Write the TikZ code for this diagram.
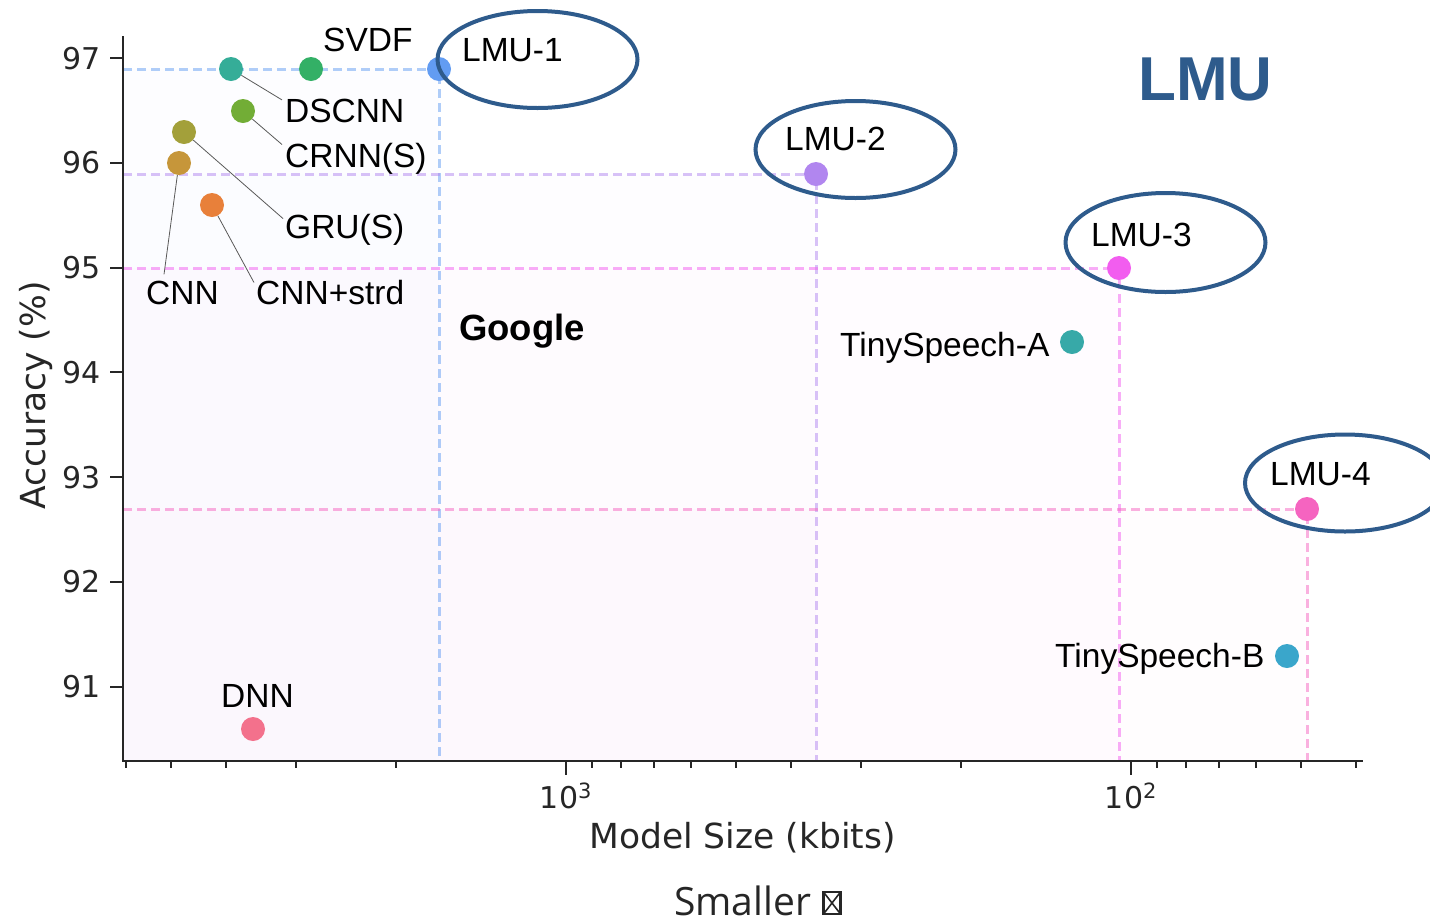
\documentclass[tikz,border=0pt]{standalone}
\usepackage{fontspec}
\setmainfont{Liberation Sans}
\newfontfamily\axisfont{DejaVu Sans}
\newfontfamily\notefont{Open Sans}
\usetikzlibrary{calc}

% palette of the scatter markers
\definecolor{cDNN}{HTML}{F3718C}
\definecolor{cCNNs}{HTML}{E8803A}
\definecolor{cCNN}{HTML}{C6963A}
\definecolor{cGRU}{HTML}{A3A03A}
\definecolor{cCRNN}{HTML}{72AD36}
\definecolor{cSVDF}{HTML}{33B066}
\definecolor{cDSCNN}{HTML}{35AD98}
\definecolor{cTSA}{HTML}{37A9A8}
\definecolor{cTSB}{HTML}{3AA6CB}
\definecolor{cLMUa}{HTML}{629CF2}
\definecolor{cLMUb}{HTML}{B186EF}
\definecolor{cLMUc}{HTML}{F25DEF}
\definecolor{cLMUd}{HTML}{F564C0}
\definecolor{lmuedge}{HTML}{2E5B8C}
\definecolor{axisdark}{HTML}{262626}

\newcommand\setfs[1]{\fontsize{#1}{#1}\selectfont}

\begin{document}
\begin{tikzpicture}[x=1pt, y=-1pt,
  pt/.style={circle, fill=#1, minimum size=24pt, inner sep=0pt},
  guide/.style={draw=#1, draw opacity=0.5, line width=3pt, dash pattern=on 9pt off 5pt},
  shadebox/.style={fill=#1, fill opacity=0.016},
  lbl/.style={font=\setfs{33.5}, inner sep=0pt, anchor=base west},
  leader/.style={draw=black!65, line width=0.8pt},
  halo/.style={draw=lmuedge, line width=4pt},
  spine/.style={draw=axisdark, line width=2.5pt},
  tickmark/.style={draw=axisdark, line width=2pt},
  ytick/.style={font=\axisfont\setfs{30}, text=axisdark, inner sep=0pt, anchor=east},
  xtick/.style={font=\axisfont\setfs{30}, text=axisdark, inner sep=0pt, anchor=base},
  axlabel/.style={font=\axisfont\setfs{34.5}, text=axisdark, inner sep=0pt, anchor=base},
]
\useasboundingbox (0,0) rectangle (1430,922);

% shaded dominance regions of the LMU models
\fill[shadebox=cLMUa] (123,69) rectangle (439,761);
\fill[shadebox=cLMUb] (123,174) rectangle (816,761);
\fill[shadebox=cLMUc] (123,268) rectangle (1119,761);
\fill[shadebox=cLMUd] (123,509) rectangle (1307,761);

% marker positions
\coordinate (l1) at (439,69);
\coordinate (l2) at (816,174);
\coordinate (l3) at (1119,268);
\coordinate (l4) at (1307,509);
\coordinate (yl1) at (123,69);
\coordinate (yl2) at (123,174);
\coordinate (yl3) at (123,268);
\coordinate (yl4) at (123,509);
\coordinate (xl1) at (439,761);
\coordinate (xl2) at (816,761);
\coordinate (xl3) at (1119,761);
\coordinate (xl4) at (1307,761);

% guide lines
\draw[guide=cLMUa] (yl1) -- (l1) -- (xl1);
\draw[guide=cLMUb] (yl2) -- (l2) -- (xl2);
\draw[guide=cLMUc] (yl3) -- (l3) -- (xl3);
\draw[guide=cLMUd] (yl4) -- (l4) -- (xl4);

% axes
\draw[spine] (123,36) -- (123,761) -- (1363,761);
\foreach \v [count=\i from 0] in {97,96,95,94,93,92,91}{
  \pgfmathsetmacro\yy{58.3+104.7*\i}
  \draw[tickmark] (110,\yy) -- (123,\yy);
  \node[ytick] (ytick-\v) at (101,\yy) {\v};
}
\foreach \s in {6000,5000,4000,3000,2000,900,800,700,600,500,400,300,200,90,80,70,60,50,40}{
  \pgfmathsetmacro\xx{566+565*(3-log10(\s))}
  \draw[tickmark] (\xx,761) -- (\xx,768);
}
\draw[tickmark] (566,761) -- (566,775);
\draw[tickmark] (1131,761) -- (1131,775);
\node[xtick] (xt3) at (566,808) {10\textsuperscript{3}};
\node[xtick] (xt2) at (1131,808) {10\textsuperscript{2}};

\node[axlabel] (xlab) at (742.5,848) {Model Size (kbits)};
\node[axlabel, rotate=90] (ylab) at (45,395.5) {Accuracy (\%)};

% markers
\node[pt=cDSCNN] (p-dscnn) at (231,69) {};
\node[pt=cSVDF] (p-svdf) at (311,69) {};
\node[pt=cLMUa] (p-l1) at (l1) {};
\node[pt=cCRNN] (p-crnn) at (243,111) {};
\node[pt=cGRU] (p-gru) at (184,132) {};
\node[pt=cCNN] (p-cnn) at (179,163) {};
\node[pt=cCNNs] (p-cnns) at (212,205) {};
\node[pt=cDNN] (p-dnn) at (253,729) {};
\node[pt=cLMUb] (p-l2) at (l2) {};
\node[pt=cLMUc] (p-l3) at (l3) {};
\node[pt=cTSA] (p-tsa) at (1072,342) {};
\node[pt=cLMUd] (p-l4) at (l4) {};
\node[pt=cTSB] (p-tsb) at (1287,656) {};

% model names
\node[lbl] (t-svdf) at (323,51) {SVDF};
\node[lbl] (t-dscnn) at (285,122) {DSCNN};
\node[lbl] (t-crnn) at (285,167) {CRNN(S)};
\node[lbl] (t-gru) at (285,238) {GRU(S)};
\node[lbl] (t-cnn) at (146,304) {CNN};
\node[lbl] (t-cnns) at (256,304) {CNN+strd};
\node[lbl] (t-dnn) at (221,707) {DNN};
\node[lbl] (t-l1) at (462,61) {LMU-1};
\node[lbl] (t-l2) at (785,150) {LMU-2};
\node[lbl] (t-l3) at (1091,246) {LMU-3};
\node[lbl] (t-l4) at (1270,485) {LMU-4};
\node[lbl] (t-tsa) at (840,356) {TinySpeech-A};
\node[lbl] (t-tsb) at (1055,667) {TinySpeech-B};
\node[lbl, font=\bfseries\setfs{36.5}] (t-google) at (459,340) {Google};
\node[lbl, font=\bfseries\setfs{62}, text=lmuedge] (t-lmu) at (1138,100) {LMU};

% leader lines from markers to their names
\draw[leader] (p-dscnn) -- ($(t-dscnn.north west)+(-3,1.5)$);
\draw[leader] (p-crnn) -- ($(t-crnn.north west)+(-3,2)$);
\draw[leader] (p-gru) -- ($(t-gru.north west)+(-2,5)$);
\draw[leader] (p-cnn) -- ($(t-cnn.north west)+(18,-6)$);
\draw[leader] (p-cnns) -- ($(t-cnns.north west)+(-2,3)$);

% highlight rings round the LMU names
\draw[halo] (537.5,59.5) ellipse [x radius=100pt, y radius=48.5pt];
\draw[halo] (855.5,149.5) ellipse [x radius=100pt, y radius=48.5pt];
\draw[halo] (1165.5,242.5) ellipse [x radius=100pt, y radius=49.5pt];
\draw[halo] (1345,483) ellipse [x radius=100pt, y radius=48.5pt];

% caption under the axis
\node[inner sep=0pt, anchor=base west, font=\notefont\setfs{39}, text=axisdark] (smaller) at (674,915) {Smaller};
\coordinate (gl-a) at (823.5,892);
\coordinate (gl-b) at (840.5,914);
\draw[axisdark, line width=2.2pt] (gl-a) rectangle (gl-b);
\draw[axisdark, line width=1.6pt] (gl-a) -- (gl-b) (gl-a -| gl-b) -- (gl-a |- gl-b);
\end{tikzpicture}
\end{document}
